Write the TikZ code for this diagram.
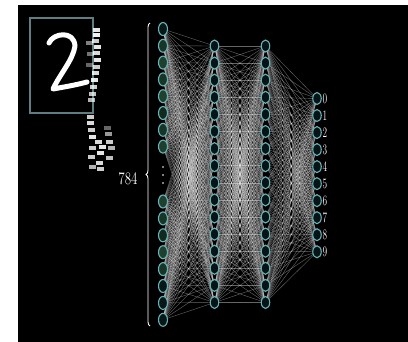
\documentclass[tikz,border=0pt]{standalone}
\usetikzlibrary{shapes.geometric,backgrounds,decorations.pathreplacing}
\definecolor{teal1}{RGB}{105,178,184}
\definecolor{boxc}{RGB}{95,125,130}
\definecolor{hfill}{RGB}{6,20,22}
\definecolor{gA}{RGB}{30,64,44}
\definecolor{gB}{RGB}{24,54,38}
\definecolor{gC}{RGB}{18,42,30}
\definecolor{gD}{RGB}{8,24,22}
\tikzset{
  neuron/.style={ellipse, draw=teal1, line width=1.1pt, inner sep=0pt},
  inode/.style={neuron, minimum width=9pt, minimum height=13pt},
  hnode/.style={neuron, fill=hfill, minimum width=8.5pt, minimum height=12pt},
  onode/.style={neuron, fill=hfill, minimum width=8.5pt, minimum height=12pt},
  link/.style={white, opacity=0.4, line width=0.4pt},
  pix/.style={fill=white, draw=none},
  lbl/.style={white, inner sep=0pt, font=\fontsize{12}{12}\selectfont}
}
\begin{document}
\begin{tikzpicture}[x=1pt,y=-1pt]
\useasboundingbox (0,0) rectangle (408,342);
% input layer
\foreach \i/\y/\c in {1/29/gD,2/45.8/gB,3/62.6/gA,4/79.4/gB,5/96.2/gA,6/113/gC,7/129.8/gB,8/146.6/gA,
  9/201.5/gA,10/218.4/gB,11/235.3/gC,12/252.2/gA,13/269.1/gB,14/286/gD,15/302.9/gD,16/319.8/gD}
  \node[inode, fill=\c] (i\i) at (163,\y) {};
% hidden layers
\foreach \i in {1,...,16} {
  \node[hnode] (h\i) at (214.5,{46+(\i-1)*17.1}) {};
  \node[hnode] (k\i) at (265.5,{46+(\i-1)*17.1}) {};
}
% output layer
\foreach \i in {1,...,10} {
  \node[onode] (o\i) at (317,{98.5+(\i-1)*17.03}) {};
}
\foreach \i [evaluate=\i as \d using int(\i-1)] in {1,...,10}
  \node[lbl, anchor=west] (l\i) at (322.5,{98.5+(\i-1)*17.03}) {\scalebox{0.78}[1.2]{\d}};
\begin{scope}[on background layer]
  \fill[white] (0,0) rectangle (408,342);
  \fill[black] (18,5) rectangle (408,342);
  \foreach \a in {1,...,16} \foreach \b in {1,...,16} \draw[link] (i\a.center) -- (h\b.center);
  \foreach \a in {1,...,16} \foreach \b in {1,...,16} \draw[link] (h\a.center) -- (k\b.center);
  \foreach \a in {1,...,16} \foreach \b in {1,...,10} \draw[link] (k\a.center) -- (o\b.center);
\end{scope}
% dots in input column
\foreach \y in {167,175,183} \fill[white] (163,\y) circle (0.9);
% brace and count
\draw[white, line width=0.9pt, decorate, decoration={brace, amplitude=4pt}] (150,326) -- (150,23);
\node[white, inner sep=0pt, font=\fontsize{13}{13}\selectfont] (n784) at (128,179) {\scalebox{1}[1.35]{784}};
% image box with digit
\draw[boxc, line width=1.2pt] (30,18) rectangle (93,113);
\draw[white, line width=5pt, line cap=round, line join=round]
  (49,43) .. controls (53,33) and (74,30) .. (75,46) .. controls (73,60) and (60,74) .. (53,89)
  .. controls (64,87) and (76,85) .. (87,82);
% flattened pixel strip
\foreach \x/\y/\o in {96/30/0.9,96/35/0.95,95/41/0.8,97/47/0.9,96/53/0.85,97/60/0.9,96/67/0.8,95/73/0.85,
  94/80/0.9,93/87/0.8,92/94/0.75,91/100/0.7,89/43/0.5,90/54/0.45,89/65/0.4,
  90/117/0.8,90/123/0.85,91/130/0.8,92/137/0.9,98/142/0.85,108/134/0.6,109/142/0.8,102/147/0.9,
  92/148/0.8,111/148/0.7,100/153/0.9,91/157/0.8,109/158/0.75,99/163/0.85,92/167/0.7,100/169/0.8,107/128/0.4}
  \fill[pix, opacity=\o] (\x-3.5,\y-1.6) rectangle (\x+3.5,\y+1.6);
\end{tikzpicture}
\end{document}
